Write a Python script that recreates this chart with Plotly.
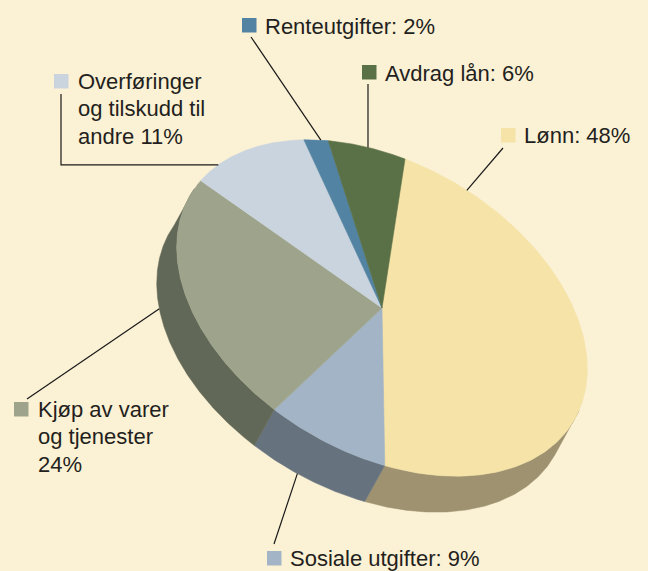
import numpy as np
import plotly.graph_objects as go

# ---------------- data ----------------
categories = ["Lønn", "Sosiale utgifter", "Kjøp av varer og tjenester",
              "Overføringer og tilskudd til andre", "Renteutgifter", "Avdrag lån"]
values = [48, 9, 24, 11, 2, 6]
label_lines = [["Lønn: 48%"], ["Sosiale utgifter: 9%"],
               ["Kjøp av varer", "og tjenester", "24%"],
               ["Overføringer", "og tilskudd til", "andre 11%"],
               ["Renteutgifter: 2%"], ["Avdrag lån: 6%"]]

# ---------------- style ----------------
top_colors = ["#f5e3a7", "#a2b4c5", "#9ea48c", "#cad4de", "#5283a3", "#5a7046"]
side_colors = ["#9e9270", "#66737f", "#626857", "#8a939c", "#385b72", "#3f4e31"]
BG = "#fbf1d4"
TXT = "#231f20"
FONT = "Liberation Sans, Arial, sans-serif"
FS = 22

# projected (tilted) pie geometry in page pixels
CENTER = np.array([382.0, 308.0])
AXIS_A = np.array([23.0, -149.0])
AXIS_B = np.array([204.0, 78.0])
DEPTH = np.array([-20.0, 36.0])

# label layout: square (x0, y0), text left x, first line middle y, anchor frac in slice,
# anchor on bottom of side (1) or top rim (0), leader start, elbow style
LABEL_LAYOUT = [
    dict(sq=(501, 128), tx=524, ty=135, frac=0.104, depth=0, start=(503, 148), elbow=None),
    dict(sq=(267, 551), tx=290, ty=558.5, frac=0.59, depth=1, start=(274, 544), elbow=None),
    dict(sq=(14, 402), tx=38, ty=409, frac=0.57, depth=1, start=(27, 399), elbow=None),
    dict(sq=(54, 74), tx=78, ty=81, frac=0.23, depth=0, start=(61, 94), elbow="v"),
    dict(sq=(242, 18), tx=265, ty=26, frac=0.7, depth=0, start=(251, 37), elbow=None),
    dict(sq=(362, 65), tx=385, ty=73, frac=0.53, depth=0, start=(368, 84), elbow="x"),
]
SQ = 14.5
LINE_GAP = 27.5


def rim(s):
    ang = 2 * np.pi * np.asarray(s)
    return (CENTER[:, None] + AXIS_A[:, None] * np.cos(ang)[None, :]
            + AXIS_B[:, None] * np.sin(ang)[None, :])


# depth direction expressed in the unit-circle frame (for front-facing test)
M = np.column_stack([AXIS_A, AXIS_B])
W = np.linalg.solve(M, DEPTH)

total = float(sum(values))
fr = np.array(values) / total
cum = np.concatenate([[0], np.cumsum(fr)])

fig = go.Figure()

# sides (only the front-facing part of each slice's rim)
for i in range(len(values)):
    s = np.linspace(cum[i], cum[i + 1], 300)
    ang = 2 * np.pi * s
    front = np.cos(ang) * W[0] + np.sin(ang) * W[1] > -0.02
    if front.sum() < 2:
        continue
    s = s[front]
    p = rim(s)
    q = p + DEPTH[:, None]
    xs = np.concatenate([p[0], q[0][::-1], [p[0][0]]])
    ys = np.concatenate([p[1], q[1][::-1], [p[1][0]]])
    fig.add_trace(go.Scatter(x=xs, y=ys, mode="lines", fill="toself",
                             fillcolor=side_colors[i],
                             line=dict(color=side_colors[i], width=0.5),
                             hoverinfo="skip", showlegend=False))

# tops
for i in range(len(values)):
    s = np.linspace(cum[i], cum[i + 1], 200)
    p = rim(s)
    xs = np.concatenate([[CENTER[0]], p[0], [CENTER[0]]])
    ys = np.concatenate([[CENTER[1]], p[1], [CENTER[1]]])
    fig.add_trace(go.Scatter(x=xs, y=ys, mode="lines", fill="toself",
                             fillcolor=top_colors[i],
                             line=dict(color=top_colors[i], width=0.6),
                             hoverinfo="skip", showlegend=False, name=categories[i]))

shapes = []
annotations = []
for i, L in enumerate(LABEL_LAYOUT):
    s_anchor = cum[i] + L["frac"] * fr[i]
    a = rim([s_anchor])[:, 0] + L["depth"] * DEPTH
    sx, sy = L["start"]
    if L["elbow"] == "v":
        path = f"M{sx},{sy} L{sx},{a[1]} L{a[0]},{a[1]}"
    elif L["elbow"] == "x":
        path = f"M{sx},{sy} L{sx},{a[1]}"
    else:
        path = f"M{sx},{sy} L{a[0]},{a[1]}"
    shapes.append(dict(type="path", path=path, xref="x", yref="y",
                       line=dict(color="#1a1a1a", width=1.2)))
    x0, y0 = L["sq"]
    shapes.append(dict(type="rect", x0=x0, x1=x0 + SQ, y0=y0, y1=y0 + SQ,
                       xref="x", yref="y", fillcolor=top_colors[i], line=dict(width=0)))
    for k, line in enumerate(label_lines[i]):
        annotations.append(dict(x=L["tx"] - 2, y=L["ty"] + k * LINE_GAP, xref="x", yref="y",
                                text=line, showarrow=False, xanchor="left", yanchor="middle",
                                font=dict(family=FONT, size=FS, color=TXT)))

fig.update_layout(
    width=648, height=571, autosize=False,
    margin=dict(l=0, r=0, t=0, b=0),
    paper_bgcolor=BG, plot_bgcolor=BG,
    xaxis=dict(range=[0, 648], visible=False, fixedrange=True),
    yaxis=dict(range=[571, 0], visible=False, fixedrange=True),
    shapes=shapes, annotations=annotations,
)

fig.write_html("out.html", config={"displayModeBar": False},
               post_script="document.body.style.margin='0';document.body.style.overflow='hidden';"
                           "document.documentElement.style.overflow='hidden';")
